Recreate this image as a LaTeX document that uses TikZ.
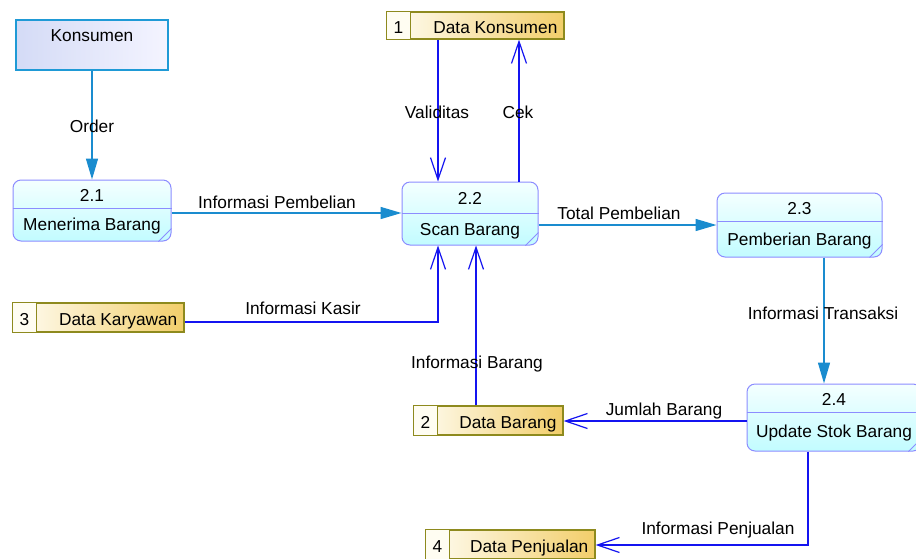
\documentclass[tikz,border=0pt]{standalone}
\usepackage{fontspec}
\setmainfont{Liberation Sans}
\usetikzlibrary{arrows.meta,calc}

\definecolor{flowcyan}{HTML}{1A8CCF}
\definecolor{flowblue}{HTML}{1414F0}
\definecolor{procedge}{HTML}{8C8CFF}
\definecolor{proctop}{HTML}{F4FFFF}
\definecolor{procbot}{HTML}{C2FCFF}
\definecolor{extedge}{HTML}{1F9AD6}
\definecolor{extleft}{HTML}{D4DBF6}
\definecolor{extright}{HTML}{F4F4FF}
\definecolor{dsedge}{HTML}{8E8A1E}
\definecolor{dsleft}{HTML}{FFFDF4}
\definecolor{dsright}{HTML}{F2CE6A}
\definecolor{dscell}{HTML}{FFFDF2}

\tikzset{
  ext/.style={draw=extedge, line width=1.2pt, left color=extleft, right color=extright, inner sep=0pt},
  proc/.style={draw=procedge, line width=1pt, rounded corners=8pt, top color=proctop, bottom color=procbot, inner sep=0pt},
  procline/.style={draw=procedge, line width=1pt},
  procfold/.style={draw=procedge, line width=0.8pt},
  store/.style={draw=dsedge, line width=1.2pt, left color=dsleft, right color=dsright, inner sep=0pt},
  storecell/.style={draw=dsedge, line width=1.2pt, fill=dscell},
  % text is centred on its capital letters; descenders hang below
  txt/.style={inner sep=0pt, text=black, text height=12.4pt, text depth=0pt},
  flowA/.style={draw=flowcyan, line width=1.5pt, -{Triangle[length=21pt,width=12pt]}},
  flowB/.style={draw=flowblue, line width=1.2pt, -{Straight Barb[length=22pt,width=15pt]}},
}

\begin{document}
\begin{tikzpicture}[x=1pt, y=-1pt, font=\fontsize{17.3}{20}\selectfont]
\useasboundingbox (0,0) rectangle (916,558);

% external entity
\node[ext, minimum width=152pt, minimum height=50pt] (kons) at (92,45) {};
\node[txt] (konsT) at (92,35.5) {Konsumen};

% processes
\node[proc, minimum width=158pt, minimum height=61pt] (p21) at (92,210.5) {};
\node[proc, minimum width=136pt, minimum height=63pt] (p22) at (470,213.5) {};
\node[proc, minimum width=165pt, minimum height=64pt] (p23) at (799.5,225) {};
\node[proc, minimum width=174pt, minimum height=67pt] (p24) at (834,417.5) {};

\foreach \p/\num/\name/\h/\d in {p21/2.1/Menerima Barang/61/29, p22/2.2/Scan Barang/63/32, p23/2.3/Pemberian Barang/64/29, p24/2.4/Update Stok Barang/67/29}{
  \draw[procline] ($(\p.north west)+(0,\d)$) -- ($(\p.north east)+(0,\d)$);
  \draw[procfold] ($(\p.south east)+(-13,0)$) -- ($(\p.south east)+(0,-13)$);
  \node[txt] (\p num) at ($(\p.north)+(0,{\d/2+1})$) {\num};
  \node[txt] (\p name) at ($(\p.north)+(0,{\d+(\h-\d)/2})$) {\name};
}

% data stores
\node[store, minimum width=177pt, minimum height=27pt] (ds1) at (475.5,25.5) {};
\node[store, minimum width=149pt, minimum height=29pt] (ds2) at (488.5,420.5) {};
\node[store, minimum width=171pt, minimum height=29pt] (ds3) at (98.5,317.5) {};
\node[store, minimum width=169pt, minimum height=29pt] (ds4) at (510.5,544.5) {};

\foreach \d/\num/\name in {ds1/1/Data Konsumen, ds2/2/Data Barang, ds3/3/Data Karyawan, ds4/4/Data Penjualan}{
  \draw[storecell] (\d.north west) rectangle ($(\d.south west)+(24,0)$);
  \node[txt] (\d num) at ($(\d.west)+(12,1.5)$) {\num};
  \node[txt, anchor=east] (\d name) at ($(\d.east)+(-7,1.5)$) {\name};
}

% data flows
\draw[flowA] (kons.south) -- (p21.north -| kons.south);
\draw[flowA] (p21.east |- 0,213) -- (p22.west |- 0,213);
\draw[flowA] (p22.east |- 0,225) -- (p23.west |- 0,225);
\draw[flowA] (p23.south -| 824,0) -- (p24.north -| 824,0);

\draw[flowB] (ds1.south -| 438,0) -- (p22.north -| 438,0);
\draw[flowB] (p22.north -| 519,0) -- (ds1.south -| 519,0);
\draw[flowB] (ds3.east |- 0,322) -- (438,322) -- (p22.south -| 438,0);
\draw[flowB] (ds2.north -| 476,0) -- (p22.south -| 476,0);
\draw[flowB] (p24.west |- 0,421) -- (ds2.east |- 0,421);
\draw[flowB] (p24.south -| 808,0) -- (808,545) -- (ds4.east |- 0,545);

% flow labels
\node[txt] (lOrder) at (92,126) {Order};
\node[txt] (lValid) at (437,112) {Validitas};
\node[txt] (lCek) at (518,112) {Cek};
\node[txt] (lBeli) at (277,202) {Informasi Pembelian};
\node[txt] (lTotal) at (619,213) {Total Pembelian};
\node[txt] (lKasir) at (303,308) {Informasi Kasir};
\node[txt] (lBarang) at (477,362) {Informasi Barang};
\node[txt] (lTrans) at (823,313) {Informasi Transaksi};
\node[txt] (lJumlah) at (664,409) {Jumlah Barang};
\node[txt] (lJual) at (718,528) {Informasi Penjualan};
\end{tikzpicture}
\end{document}
